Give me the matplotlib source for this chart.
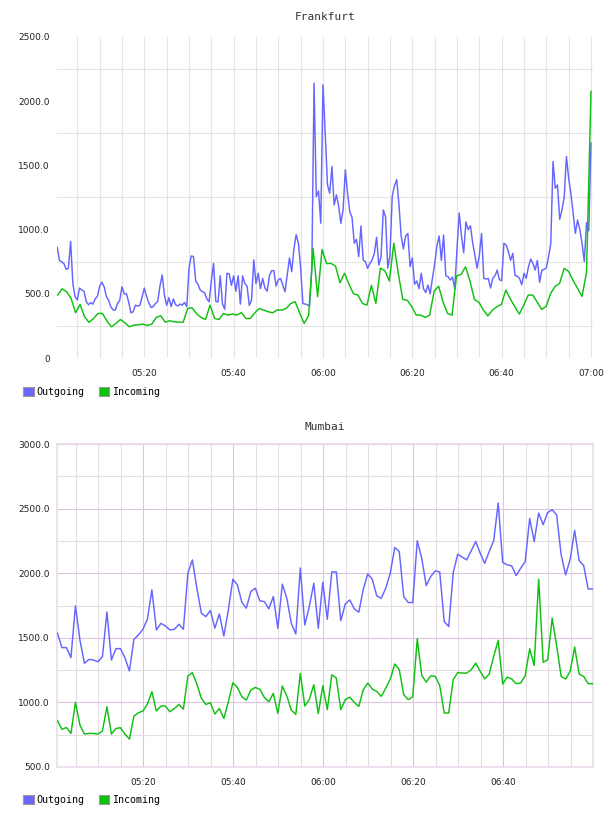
import numpy as np
import matplotlib
matplotlib.use("Agg")
import matplotlib.pyplot as plt
from matplotlib.patches import Patch

# ---------------------------------------------------------------
# traffic values, x in minutes after 05:00
# ---------------------------------------------------------------
# Frankfurt outgoing: one sample every 30 s
fra_out = [
    862, 760, 750, 735, 690, 700, 908, 580, 477, 452,
    545, 530, 520, 440, 415, 430, 420, 462, 480, 560,
    590, 555, 480, 450, 398, 375, 373, 425, 450, 555,
    500, 500, 435, 352, 360, 412, 404, 410, 475, 545,
    480, 430, 394, 400, 425, 440, 560, 646, 490,
    410, 470, 400, 460, 415, 405, 420, 412, 433, 400,
    700, 795, 790, 600, 575, 530, 516, 508, 460, 438,
    600, 737, 440, 436, 640, 420, 380, 660, 655, 565,
    640, 520, 640, 420, 640, 580, 560, 410, 450, 763,
    580, 660, 540, 620, 545, 520, 640, 680,
    680, 560, 610, 620, 568, 516, 650, 780, 672, 853,
    960, 893, 700, 425, 420, 415, 404, 700, 2141, 1257,
    1300, 1050, 2128, 1750, 1350, 1283, 1491, 1192, 1270, 1185,
    1049, 1153, 1465, 1283, 1140, 1096, 893, 924, 789, 1028,
    763, 750, 698, 737, 763, 815, 940, 724, 789,
    1153, 1100, 700, 800, 1260, 1340, 1390, 1200, 950, 850,
    950, 970, 711, 780, 575, 600, 540, 660, 540, 510,
    568, 500, 620, 730, 872, 950, 760, 958, 640, 633,
    607, 630, 540, 850, 1130, 950, 820, 1060, 1000, 1030,
    900, 800, 700, 800, 970, 620, 615, 620,
    545, 620, 640, 685, 610, 602, 893, 880, 830, 760,
    815, 640, 638, 620, 570, 660, 620, 711, 770, 737,
    685, 760, 590, 685, 690, 700, 789, 893, 1530, 1322,
    1348, 1080, 1153, 1250, 1569, 1400, 1283, 1130, 971, 1075,
    1000, 893, 750, 1054, 990, 1673,
]
# Frankfurt incoming: one sample per minute
fra_in = [
    490, 539, 516, 464, 352, 417, 321, 277, 308, 347,
    347, 287, 243, 269, 300, 274, 243, 256, 259, 264,
    253, 264, 316, 329, 279,
    290, 282, 280, 279, 386, 391, 345, 316, 300, 412,
    308, 300, 347, 334, 342, 334, 355, 308, 308, 352,
    386, 373, 360, 352,
    375, 373, 386, 425, 438, 350, 269, 330, 853, 477,
    845, 735, 737, 715, 586, 660, 575, 500, 490, 425,
    412, 565, 425,
    700, 680, 600, 895, 660, 456, 450, 400, 334, 334,
    316, 334, 520, 560, 435, 347, 334, 640, 650, 710,
    600, 455, 434, 373, 328,
    373, 399, 417, 529, 460, 400, 342, 412, 490, 490,
    435, 378, 402, 503, 558, 581, 698, 675, 605, 542,
    480, 665, 2076,
]
# Mumbai: one sample per minute
mum_out = [
    1535, 1424, 1424, 1346, 1747, 1483, 1302, 1333, 1328, 1315,
    1354, 1700, 1328, 1416, 1416, 1346, 1243, 1488, 1522, 1566,
    1643, 1871, 1561, 1612, 1592, 1561, 1566, 1605, 1566, 2000,
    2103, 1884, 1690, 1664, 1711, 1574, 1685, 1514, 1716, 1953,
    1910, 1775, 1729, 1858, 1884, 1786, 1780, 1724, 1819, 1574,
    1915, 1806, 1612, 1530, 2041, 1599, 1742,
    1922, 1574, 1930, 1643, 2010, 2010, 1633, 1762, 1793, 1724,
    1698, 1876, 1995, 1953, 1824, 1806, 1884, 2000, 2199, 2168,
    1819, 1773, 1773, 2251, 2116, 1904, 1974, 2018, 2010, 1625,
    1587, 2005, 2147, 2124, 2103, 2173, 2245, 2155, 2077, 2168,
    2251, 2543, 2083, 2065, 2057, 1982, 2039, 2090, 2424, 2245,
    2465, 2375, 2470, 2491, 2450, 2142, 1987, 2108, 2331, 2098,
    2060, 1878, 1878,
]
mum_in = [
    858, 791, 806, 760, 1000, 824, 755, 760, 760, 755,
    778, 966, 755, 798, 804, 755, 716, 894, 920, 933,
    987, 1083, 933, 972, 972, 928, 953, 984, 948, 1204,
    1230, 1142, 1031, 984, 997, 910, 953, 876, 1005, 1152,
    1116, 1044, 1018, 1096, 1116, 1101, 1039, 1005, 1070, 915,
    1127, 1049, 941, 907, 1225, 972, 1023,
    1137, 913, 1129, 944, 1214, 1188, 944, 1021, 1041, 1000,
    969, 1098, 1150, 1103, 1085, 1047, 1111, 1181, 1297, 1253,
    1060, 1021,
    1043, 1492, 1209, 1157, 1206, 1201, 1132, 918, 918, 1175,
    1232, 1227, 1227, 1253, 1304, 1240, 1183, 1219, 1356, 1480,
    1142, 1196, 1181, 1145, 1150, 1206, 1415, 1286, 1954, 1310,
    1330, 1652, 1438, 1201, 1181, 1240, 1428, 1219, 1201, 1145,
    1145,
]

fra_out_t = 0.5 * np.arange(1, len(fra_out) + 1)
fra_in_t = np.linspace(0.6, 120, len(fra_in))
mum_t = np.linspace(0.9, 119.9, len(mum_out))

x_ticks = [20, 40, 60, 80, 100, 120]
x_labels = ["05:20", "05:40", "06:00", "06:20", "06:40", "07:00"]
fra_yticks = [0, 500, 1000, 1500, 2000, 2500]
fra_ylabels = ["0", "500.0", "1000.0", "1500.0", "2000.0", "2500.0"]
mum_yticks = [500, 1000, 1500, 2000, 2500, 3000]
mum_ylabels = ["500.0", "1000.0", "1500.0", "2000.0", "2500.0", "3000.0"]

OUT_COLOR = "#6565ff"
IN_COLOR = "#10c010"
MONO = "DejaVu Sans Mono"


def style_ticks(ax, xticks, xlabels, yticks, ylabels):
    ax.set_xticks(xticks)
    ax.set_xticklabels(xlabels)
    ax.set_yticks(yticks)
    ax.set_yticklabels(ylabels)
    ax.tick_params(which="both", length=0, labelsize=6.5, colors="#222222")
    ax.tick_params(axis="x", pad=8)
    ax.tick_params(axis="y", pad=5)


def add_legend(fig, top_px):
    handles = [Patch(facecolor=OUT_COLOR, edgecolor="#999999", lw=0.8, label="Outgoing"),
               Patch(facecolor=IN_COLOR, edgecolor="#999999", lw=0.8, label="Incoming")]
    fig.legend(handles=handles, loc="upper left",
               bbox_to_anchor=(23 / 608, 1 - top_px / 816), ncol=2, frameon=False,
               borderpad=0, borderaxespad=0, handlelength=1.05, handleheight=1.05,
               handletextpad=0.3, columnspacing=1.4,
               prop={"family": MONO, "size": 7.2})


fig = plt.figure(figsize=(6.08, 8.16), dpi=100)

# ---------------- Frankfurt ----------------
ax1 = fig.add_axes([57 / 608, 1 - 358 / 816, 536 / 608, 321 / 816])
ax1.plot(fra_out_t, fra_out, color=OUT_COLOR, lw=1.05, zorder=3)
ax1.plot(fra_in_t, fra_in, color=IN_COLOR, lw=1.05, zorder=4)
ax1.set_xlim(0.45, 120.45)
ax1.set_ylim(0, 2500)
style_ticks(ax1, x_ticks, x_labels, fra_yticks, fra_ylabels)
ax1.xaxis.remove_overlapping_locs = False
ax1.set_xticks(np.arange(5, 121, 5), minor=True)
ax1.set_yticks(np.arange(250, 2500, 500), minor=True)
ax1.grid(which="minor", color="#e4e4e4", lw=0.8)
for s in ax1.spines.values():
    s.set_visible(False)
ax1.set_title("Frankfurt", family=MONO, size=8, color="#333333", pad=12)
add_legend(fig, 387)

# ---------------- Mumbai ----------------
ax2 = fig.add_axes([57 / 608, 1 - 767 / 816, 536 / 608, 323 / 816])
ax2.plot(mum_t, mum_out, color=OUT_COLOR, lw=1.05, zorder=3)
ax2.plot(mum_t, mum_in, color=IN_COLOR, lw=1.05, zorder=4)
ax2.set_xlim(0.8, 119.98)
ax2.set_ylim(500, 3000)
style_ticks(ax2, x_ticks[:-1], x_labels[:-1], mum_yticks, mum_ylabels)
ax2.set_xticks(np.arange(5, 120, 5), minor=True)
ax2.set_yticks(np.arange(750, 3000, 500), minor=True)
ax2.grid(which="major", color="#dcc4dc", lw=0.8)
ax2.grid(which="minor", color="#e4dde4", lw=0.8)
for s in ax2.spines.values():
    s.set_color("#eadcea")
    s.set_linewidth(1.2)
ax2.set_title("Mumbai", family=MONO, size=8, color="#333333", pad=10)
add_legend(fig, 795)

fig.savefig("out.png", dpi=100)
